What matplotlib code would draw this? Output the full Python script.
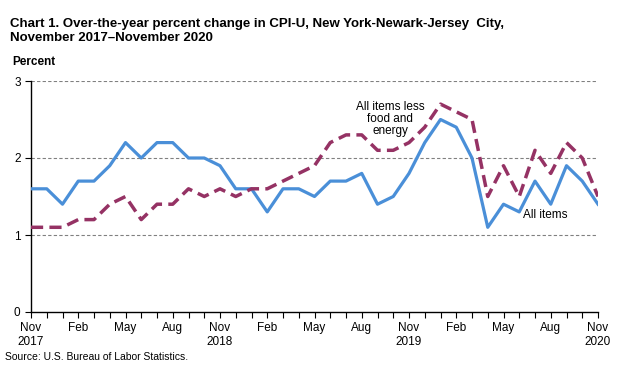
import matplotlib.pyplot as plt
import numpy as np

plt.rcParams['font.family'] = ['Liberation Sans', 'DejaVu Sans']

months = ['Nov\n2017', 'Feb', 'May', 'Aug', 'Nov\n2018', 'Feb', 'May', 'Aug',
          'Nov\n2019', 'Feb', 'May', 'Aug', 'Nov\n2020']

all_items = [1.6, 1.6, 1.4, 1.7, 1.7, 1.9, 2.2, 2.0, 2.2, 2.2, 2.0, 2.0,
             1.9, 1.6, 1.6, 1.3, 1.6, 1.6, 1.5, 1.7, 1.7, 1.8, 1.4, 1.5,
             1.8, 2.2, 2.5, 2.4, 2.0, 1.1, 1.4, 1.3, 1.7, 1.4, 1.9, 1.7, 1.4]

core = [1.1, 1.1, 1.1, 1.2, 1.2, 1.4, 1.5, 1.2, 1.4, 1.4, 1.6, 1.5,
        1.6, 1.5, 1.6, 1.6, 1.7, 1.8, 1.9, 2.2, 2.3, 2.3, 2.1, 2.1,
        2.2, 2.4, 2.7, 2.6, 2.5, 1.5, 1.9, 1.5, 2.1, 1.8, 2.2, 2.0, 1.5]

x = np.arange(len(all_items))

W, H = 621, 389
fig = plt.figure(figsize=(W / 100, H / 100), dpi=100)
ax = fig.add_axes([31/W, 1-312/H, (598-31)/W, (312-81)/H])

for yv in [1, 2, 3]:
    ax.axhline(yv, color='#808080', lw=0.8, ls=(0, (3, 2)), zorder=1)

ax.plot(x, all_items, color='#4a8fd8', lw=2.3, zorder=3)
ax.plot(x, core, color='#953264', lw=2.5, ls=(0, (3.5, 1.8)), zorder=3)

ax.set_xlim(0, len(x) - 1)
ax.set_ylim(0, 3)
ax.set_yticks([0, 1, 2, 3])
ax.set_xticks(x[::3])
ax.set_xticklabels(months)
ax.set_xticks(x, minor=True)
ax.tick_params(axis='x', which='both', direction='out', length=4, width=0.8,
               labelsize=8.5, pad=3)
ax.tick_params(axis='y', direction='out', length=4, width=0.8, labelsize=8.5)
for s in ['top', 'right']:
    ax.spines[s].set_visible(False)
for s in ['left', 'bottom']:
    ax.spines[s].set_linewidth(1.0)

fig.text(390/W, 1-119/H, 'All items less\nfood and\nenergy',
         ha='center', va='center', fontsize=8.5, linespacing=1.05)
fig.text(545/W, 1-215/H, 'All items', ha='center', va='center',
         fontsize=8.5)

fig.text(10/W, 1-31/H,
         'Chart 1. Over-the-year percent change in CPI-U, New York-Newark-Jersey  City,\nNovember 2017\u2013November 2020',
         fontsize=9.5, fontweight='bold', va='center', ha='left', linespacing=1.15)
fig.text(12/W, 1-62/H, 'Percent', fontsize=8.5, fontweight='bold',
         va='center', ha='left')
fig.text(5/W, 1-357/H, 'Source: U.S. Bureau of Labor Statistics.',
         fontsize=7.5, va='center', ha='left')

fig.savefig('out.png', dpi=100)
